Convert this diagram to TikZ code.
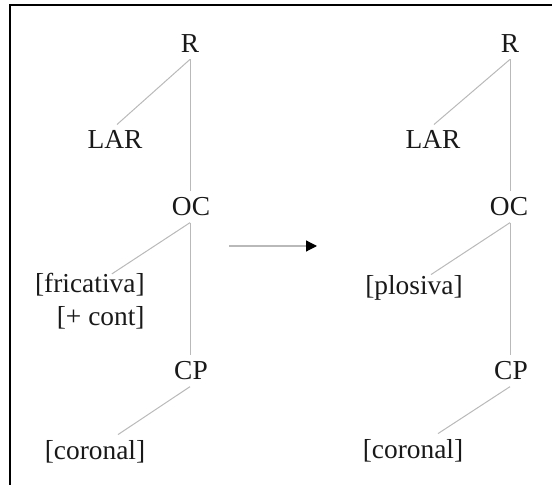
\documentclass[tikz,border=0pt]{standalone}
\usepackage{fontspec}
\setmainfont{Liberation Serif}
\usetikzlibrary{arrows.meta, positioning}

\begin{document}
\begin{tikzpicture}[
    x=0.5pt, y=-0.5pt,
    feat/.style={inner sep=3pt, text=black!90, font=\fontsize{13.7}{16.2}\selectfont},
    branch/.style={draw=gray!55, line width=0.5pt},
    rule/.style={draw=gray!55, line width=0.6pt, -{Triangle[length=5.5pt, width=5.5pt, color=black]}},
    frame/.style={draw=black, line width=1.2pt}
]
\useasboundingbox (0,0) rectangle (552,485);

% Frame
\draw[frame] (10,485) -- (10,5) -- (552,5);

% Nodes (left tree)
\node[feat, anchor=base] (rootA) at (190,53) {R};
\node[feat, anchor=base] (larA) at (115,149) {LAR};
\node[feat, anchor=base] (ocA) at (191,216) {OC};
\node[feat, anchor=east, align=right] (fric) at (151,301) {[fricativa]\\{}[+ cont]};
\node[feat, anchor=base] (cpA) at (191,380) {CP};
\node[feat, anchor=base] (corA) at (95,460) {[coronal]};

% Nodes (right tree)
\node[feat, anchor=base] (rootB) at (510,53) {R};
\node[feat, anchor=base] (larB) at (433,149) {LAR};
\node[feat, anchor=base] (ocB) at (509,216) {OC};
\node[feat, anchor=base] (plos) at (414,295) {[plosiva]};
\node[feat, anchor=base] (cpB) at (511,380) {CP};
\node[feat, anchor=base] (corB) at (413,459) {[coronal]};

% Branches
\draw[branch] (rootA.south) -- ([xshift=1pt]larA.north);
\draw[branch] (rootA.south) -- (rootA.south |- ocA.north);
\draw[branch] (ocA.south -| rootA.south) -- ([xshift=11pt, yshift=-3.5pt]fric.north);
\draw[branch] (ocA.south -| rootA.south) -- (rootA.south |- cpA.north);
\draw[branch] (cpA.south -| rootA.south) -- ([xshift=11.5pt]corA.north);

\draw[branch] (rootB.south) -- ([xshift=0.5pt]larB.north);
\draw[branch] (rootB.south) -- (rootB.south |- ocB.north);
\draw[branch] (ocB.south -| rootB.south) -- ([xshift=8.5pt, yshift=-2.5pt]plos.north);
\draw[branch] (ocB.south -| rootB.south) -- (rootB.south |- cpB.north);
\draw[branch] (cpB.south -| rootB.south) -- ([xshift=12.5pt]corB.north);

% Arrow
\coordinate (from) at (229,246);
\coordinate (to) at (317,246);
\draw[rule] (from) -- (to);

\end{tikzpicture}
\end{document}
